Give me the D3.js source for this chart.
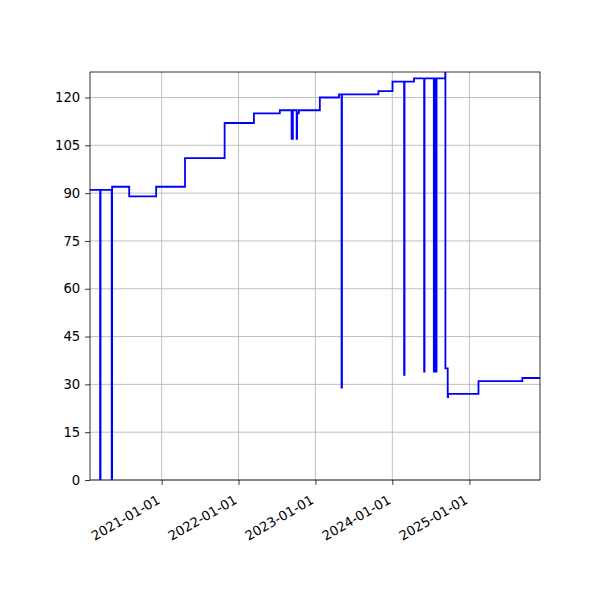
<!DOCTYPE html>
<html>
<head>
<meta charset="utf-8">
<script src="https://cdn.jsdelivr.net/npm/d3@7"></script>
<style>
  html, body { margin: 0; padding: 0; background: #fff; }
  svg { display: block; font-family: "DejaVu Sans", sans-serif; }
</style>
</head>
<body>
<svg id="chart" width="600" height="600"></svg>
<script>
// ---- data ----
const dates = [
  "2020-01-27","2020-03-15","2020-03-17","2020-05-09","2020-05-11","2020-07-31",
  "2020-12-06","2021-04-22","2021-10-27","2022-03-15","2022-07-16","2022-09-10",
  "2022-09-16","2022-10-04","2022-10-06","2022-10-14","2023-01-22","2023-04-23",
  "2023-05-05","2023-05-07","2023-10-27","2024-01-02","2024-02-26","2024-02-28",
  "2024-04-13","2024-05-31","2024-06-02","2024-07-16","2024-07-19","2024-07-27",
  "2024-07-29","2024-09-08","2024-09-09","2024-09-20","2024-09-22","2025-02-13",
  "2025-09-09","2025-12-02"
];
const values = [
  91, 0, 91, 0, 92, 89,
  92, 101, 112, 115, 116, 107,
  116, 107, 115, 116, 120, 121,
  29, 121, 122, 125, 33, 125,
  126, 34, 126, 34, 126, 34,
  126, 135, 35, 26, 27, 31,
  32, 32
];
const xDomain = ["2020-01-27", "2025-12-02"];
const yDomain = [0, 128];
const yTicks = [0, 15, 30, 45, 60, 75, 90, 105, 120];
const xTickLabels = ["2021-01-01","2022-01-01","2023-01-01","2024-01-01","2025-01-01"];

// ---- drawing ----
const parse = d3.timeParse("%Y-%m-%d");
const data = dates.map((d, i) => ({ date: parse(d), value: values[i] }));

const margin = { left: 90, right: 60, top: 72, bottom: 120 };
const W = 600, H = 600;
const iw = W - margin.left - margin.right;
const ih = H - margin.top - margin.bottom;

const svg = d3.select("#chart");
const g = svg.append("g").attr("transform", `translate(${margin.left},${margin.top})`);

const x = d3.scaleTime().domain(xDomain.map(parse)).range([0, iw]);
const y = d3.scaleLinear().domain(yDomain).range([ih, 0]);

const xTicks = xTickLabels.map(parse);

// grid
g.append("g").selectAll("line").data(xTicks).join("line")
  .attr("x1", d => x(d)).attr("x2", d => x(d))
  .attr("y1", 0).attr("y2", ih)
  .attr("stroke", "#b0b0b0").attr("stroke-width", 0.8);
g.append("g").selectAll("line").data(yTicks).join("line")
  .attr("x1", 0).attr("x2", iw)
  .attr("y1", d => y(d)).attr("y2", d => y(d))
  .attr("stroke", "#b0b0b0").attr("stroke-width", 0.8);

// clip
svg.append("defs").append("clipPath").attr("id", "clip")
  .append("rect").attr("x", 0).attr("y", 0).attr("width", iw).attr("height", ih);

const line = d3.line()
  .x(d => x(d.date))
  .y(d => y(d.value))
  .curve(d3.curveStepAfter);

g.append("path")
  .datum(data)
  .attr("clip-path", "url(#clip)")
  .attr("fill", "none")
  .attr("stroke", "#0000ff")
  .attr("stroke-width", 1.8)
  .attr("stroke-linejoin", "miter")
  .attr("d", line);

// axes
const fontSize = 13.2;
const yAxis = d3.axisLeft(y).tickValues(yTicks).tickSize(4.9).tickPadding(4.9);
const ya = g.append("g").call(yAxis);
ya.select(".domain").remove();
ya.selectAll("line").attr("stroke", "#000").attr("stroke-width", 0.8);
ya.selectAll("text").attr("font-size", fontSize).attr("font-family", "DejaVu Sans").attr("fill", "#000");

const xAxis = d3.axisBottom(x).tickValues(xTicks).tickSize(4.9).tickFormat(d3.timeFormat("%Y-%m-%d"));
const xa = g.append("g").attr("transform", `translate(0,${ih})`).call(xAxis);
xa.select(".domain").remove();
xa.selectAll("line").attr("stroke", "#000").attr("stroke-width", 0.8);
xa.selectAll("text")
  .attr("font-size", fontSize).attr("font-family", "DejaVu Sans").attr("fill", "#000")
  .attr("text-anchor", "end")
  .attr("x", 0).attr("y", 0).attr("dy", "0.75em")
  .attr("transform", "translate(-6,14) rotate(-30)");

// frame
g.append("rect").attr("x", 0).attr("y", 0).attr("width", iw).attr("height", ih)
  .attr("fill", "none").attr("stroke", "#000").attr("stroke-width", 0.8);
</script>
</body>
</html>
